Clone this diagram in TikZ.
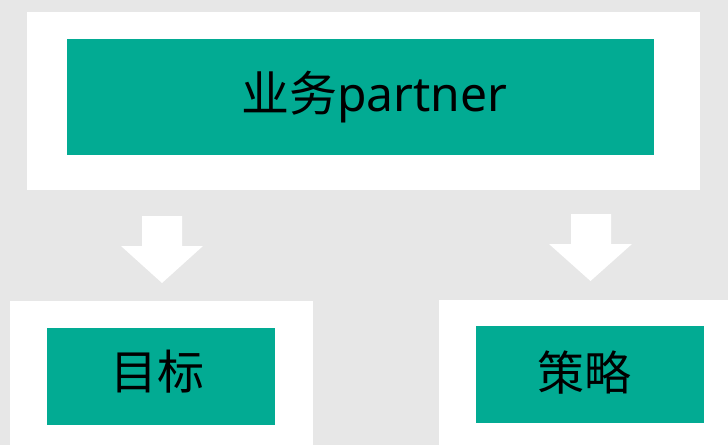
\documentclass[tikz,border=0pt]{standalone}
\usepackage{fontspec}
\setmainfont{Noto Sans CJK SC}
\newfontfamily\latinfont{Noto Sans}
\definecolor{bggray}{HTML}{E7E7E7}
\definecolor{tealbox}{HTML}{02AB93}
\begin{document}
\begin{tikzpicture}[x=1pt,y=-1pt,
  whitebox/.style={fill=white,draw=none},
  greenbox/.style={fill=tealbox,draw=none,inner sep=0pt},
  lbl/.style={inner sep=0pt,text=black},
  arrowshape/.style={fill=white,draw=none}]
\fill[bggray] (0,0) rectangle (728,445);
\useasboundingbox (0,0) rectangle (728,445);
% white frames
\fill[whitebox] (27,12) rectangle (700,190);
\fill[whitebox] (10,301) rectangle (313,445);
\fill[whitebox] (439,300) rectangle (728,445);
% green boxes
\node[greenbox,minimum width=587pt,minimum height=116pt] (top) at (360.5,97) {};
\node[greenbox,minimum width=228pt,minimum height=97pt] (goal) at (161,376.5) {};
\node[greenbox,minimum width=228pt,minimum height=97pt] (strat) at (590,374.5) {};
% labels
\node[lbl,anchor=base west,font=\fontsize{48}{48}\selectfont] (toptxt) at (241,111.5) {业务{\latinfont partner}};
\node[lbl,anchor=base,font=\fontsize{47}{47}\selectfont] (goaltxt) at (157.5,389) {目标};
\node[lbl,anchor=base,font=\fontsize{47}{47}\selectfont] (strattxt) at (584.5,390) {策略};
% arrows
\fill[arrowshape] (142,216) -- (182,216) -- (182,246) -- (203,246) -- (162,283) -- (121,246) -- (142,246) -- cycle;
\fill[arrowshape] (571,214) -- (611,214) -- (611,244) -- (632,244) -- (590.5,281) -- (549,244) -- (571,244) -- cycle;
\end{tikzpicture}
\end{document}
